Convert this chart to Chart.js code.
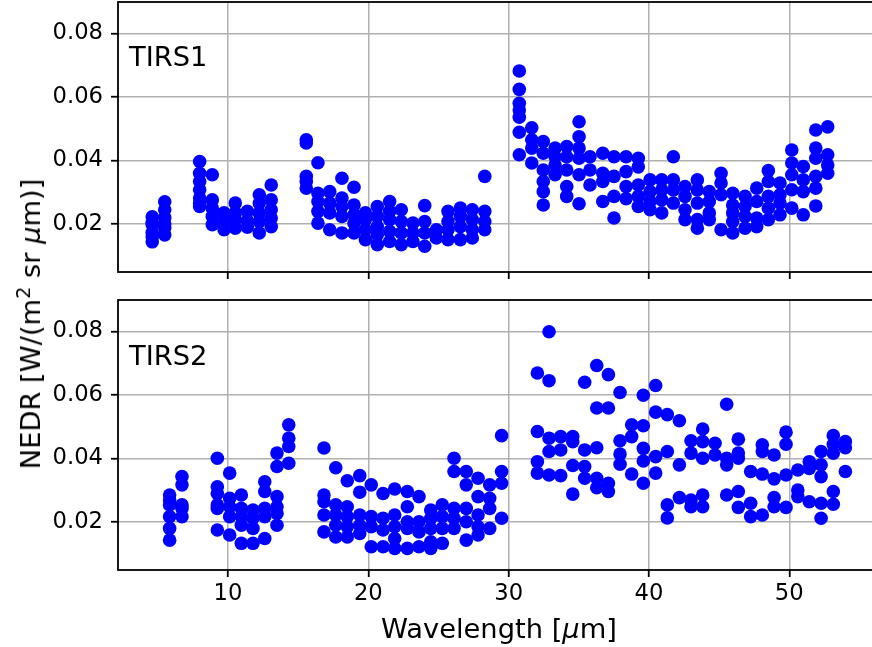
<!DOCTYPE html>
<html>
<head>
<meta charset="utf-8">
<script src="https://cdn.jsdelivr.net/npm/chart.js@4.4.0/dist/chart.umd.min.js"></script>
<style>
  html, body { margin: 0; padding: 0; background: #fff; overflow: hidden; }
  #wrap { position: relative; width: 872px; height: 647px; overflow: hidden; font-family: 'DejaVu Sans', sans-serif; color: #000; }
  canvas { position: absolute; left: 0; }
  .lbl { position: absolute; font-size: 27.3px; line-height: 32px; white-space: nowrap; }
  sup { font-size: 70%; line-height: 0; vertical-align: 0.5em; }
</style>
</head>
<body>
<div id="wrap">
  <canvas id="tirs1" width="884" height="283" style="top:0; width:884px; height:283px"></canvas>
  <canvas id="tirs2" width="884" height="357" style="top:290px; width:884px; height:357px"></canvas>
  <div class="lbl" style="left:129px; top:41px">TIRS1</div>
  <div class="lbl" style="left:129px; top:340px">TIRS2</div>
  <div class="lbl" style="left:299px; top:613px; width:400px; text-align:center">Wavelength [<i>μ</i>m]</div>
  <div class="lbl" style="left:30.6px; top:323.5px; transform: translate(-50%,-50%) rotate(-90deg)">NEDR [W/(m<sup>2</sup> sr <i>μ</i>m)]</div>
</div>
<script>
const xTicks = [10, 20, 30, 40, 50];
const xTickLabels = ['10', '20', '30', '40', '50'];
const yTicks = [0.02, 0.04, 0.06, 0.08];
const yTickLabels = ['0.02', '0.04', '0.06', '0.08'];
const xMin = 2.16, xMax = 56.61;
const yMin = 0.0049, yMax = 0.0899;

// TIRS1: wavelength of each channel column, and the NEDR values seen in it
const tirs1Wavelength = [4.60, 5.49, 7.98, 8.88, 9.72, 10.52, 11.38, 12.23, 13.08,
    15.58, 16.41, 17.25, 18.12, 18.98, 19.79, 20.64, 21.52, 22.35, 23.18, 24.02,
    24.85, 25.68, 26.56, 27.41, 28.30,
    30.76, 31.65, 32.47, 33.31, 34.14, 35.02, 35.80, 36.71, 37.51, 38.37, 39.24,
    40.08, 40.91, 41.74, 42.57, 43.45, 44.30, 45.14, 45.97, 46.85, 47.68, 48.51,
    49.34, 50.18, 51.00, 51.89, 52.74];
const tirs1Nedr = [
    [0.0223, 0.0205, 0.0198, 0.0173, 0.0160, 0.0144],
    [0.0270, 0.0245, 0.0220, 0.0200, 0.0188, 0.0166],
    [0.0397, 0.0360, 0.0334, 0.0308, 0.0282, 0.0265, 0.0255],
    [0.0355, 0.0276, 0.0250, 0.0224, 0.0198],
    [0.0235, 0.0208, 0.0182],
    [0.0266, 0.0235, 0.0214, 0.0187],
    [0.0240, 0.0210, 0.0190],
    [0.0292, 0.0266, 0.0235, 0.0208, 0.0172],
    [0.0323, 0.0276, 0.0245, 0.0219, 0.0192],
    [0.0465, 0.0455, 0.0350, 0.0334, 0.0313],
    [0.0393, 0.0297, 0.0271, 0.0240, 0.0203],
    [0.0302, 0.0266, 0.0235, 0.0182],
    [0.0344, 0.0282, 0.0255, 0.0224, 0.0172],
    [0.0316, 0.0260, 0.0229, 0.0203, 0.0172],
    [0.0235, 0.0214, 0.0182, 0.0151],
    [0.0255, 0.0224, 0.0192, 0.0166, 0.0135],
    [0.0271, 0.0240, 0.0214, 0.0177, 0.0145],
    [0.0245, 0.0208, 0.0172, 0.0135],
    [0.0203, 0.0172, 0.0145],
    [0.0258, 0.0208, 0.0172, 0.0130],
    [0.0182, 0.0156],
    [0.0240, 0.0208, 0.0182, 0.0151],
    [0.0250, 0.0224, 0.0192, 0.0151],
    [0.0245, 0.0214, 0.0182, 0.0156],
    [0.0350, 0.0240, 0.0208, 0.0182],
    [0.0682, 0.0624, 0.0580, 0.0559, 0.0536, 0.0489, 0.0418],
    [0.0503, 0.0465, 0.0439, 0.0392],
    [0.0460, 0.0423, 0.0370, 0.0334, 0.0302, 0.0260],
    [0.0439, 0.0412, 0.0386, 0.0355],
    [0.0444, 0.0412, 0.0370, 0.0318, 0.0287],
    [0.0522, 0.0475, 0.0439, 0.0407, 0.0355, 0.0264],
    [0.0412, 0.0370, 0.0323],
    [0.0423, 0.0360, 0.0334, 0.0271],
    [0.0412, 0.0350, 0.0287, 0.0219],
    [0.0412, 0.0365, 0.0318, 0.0280],
    [0.0407, 0.0380, 0.0323, 0.0287, 0.0255],
    [0.0339, 0.0302, 0.0271, 0.0245],
    [0.0339, 0.0307, 0.0276, 0.0235],
    [0.0412, 0.0339, 0.0307, 0.0266],
    [0.0318, 0.0287, 0.0245, 0.0214],
    [0.0339, 0.0307, 0.0266, 0.0214, 0.0187],
    [0.0302, 0.0271, 0.0235, 0.0214],
    [0.0360, 0.0329, 0.0292, 0.0182],
    [0.0297, 0.0260, 0.0235, 0.0208, 0.0172],
    [0.0287, 0.0255, 0.0224, 0.0187],
    [0.0313, 0.0271, 0.0219, 0.0192],
    [0.0368, 0.0334, 0.0287, 0.0250, 0.0214],
    [0.0329, 0.0292, 0.0266, 0.0229],
    [0.0433, 0.0392, 0.0355, 0.0308, 0.0250],
    [0.0381, 0.0339, 0.0302, 0.0229],
    [0.0496, 0.0439, 0.0407, 0.0350, 0.0313, 0.0257],
    [0.0506, 0.0418, 0.0386, 0.0360]
];

// TIRS2
const tirs2Wavelength = [5.84, 6.72, 9.24, 10.12, 10.95, 11.78, 12.62, 13.49, 14.33,
    16.84, 17.68, 18.50, 19.39, 20.21, 21.05, 21.88, 22.78, 23.61, 24.45, 25.27,
    26.11, 26.98, 27.82, 28.65, 29.50,
    32.05, 32.88, 33.71, 34.57, 35.42, 36.28, 37.11, 37.94, 38.77, 39.60, 40.48,
    41.31, 42.17, 43.00, 43.83, 44.71, 45.54, 46.37, 47.25, 48.08, 48.92, 49.77,
    50.61, 51.43, 52.27, 53.14, 54.00];
const tirs2Nedr = [
    [0.0285, 0.0269, 0.0254, 0.0217, 0.0180, 0.0143],
    [0.0343, 0.0317, 0.0254, 0.0243, 0.0217],
    [0.0401, 0.0311, 0.0290, 0.0254, 0.0243, 0.0175],
    [0.0354, 0.0275, 0.0248, 0.0217, 0.0159],
    [0.0285, 0.0243, 0.0217, 0.0190, 0.0133],
    [0.0238, 0.0212, 0.0180, 0.0133],
    [0.0327, 0.0296, 0.0243, 0.0217, 0.0148],
    [0.0417, 0.0375, 0.0280, 0.0248, 0.0227, 0.0190],
    [0.0506, 0.0464, 0.0438, 0.0385],
    [0.0433, 0.0285, 0.0264, 0.0222, 0.0169],
    [0.0371, 0.0254, 0.0222, 0.0190, 0.0153],
    [0.0330, 0.0248, 0.0217, 0.0185, 0.0153],
    [0.0346, 0.0294, 0.0222, 0.0190, 0.0164],
    [0.0317, 0.0217, 0.0185, 0.0122],
    [0.0290, 0.0212, 0.0175, 0.0122],
    [0.0304, 0.0222, 0.0185, 0.0148, 0.0117],
    [0.0296, 0.0248, 0.0201, 0.0180, 0.0117],
    [0.0280, 0.0201, 0.0169, 0.0122],
    [0.0238, 0.0212, 0.0180, 0.0138, 0.0117],
    [0.0254, 0.0217, 0.0180, 0.0133],
    [0.0401, 0.0359, 0.0243, 0.0212, 0.0180],
    [0.0359, 0.0317, 0.0243, 0.0201, 0.0143],
    [0.0338, 0.0280, 0.0222, 0.0185, 0.0159],
    [0.0317, 0.0275, 0.0243, 0.0180],
    [0.0472, 0.0359, 0.0322, 0.0212],
    [0.0669, 0.0485, 0.0390, 0.0354],
    [0.0799, 0.0645, 0.0464, 0.0422, 0.0348],
    [0.0469, 0.0427, 0.0346],
    [0.0469, 0.0453, 0.0378, 0.0288],
    [0.0640, 0.0427, 0.0375, 0.0338],
    [0.0693, 0.0559, 0.0434, 0.0338, 0.0308],
    [0.0664, 0.0559, 0.0322, 0.0296],
    [0.0608, 0.0456, 0.0414, 0.0382],
    [0.0506, 0.0469, 0.0351],
    [0.0599, 0.0503, 0.0432, 0.0392, 0.0322],
    [0.0630, 0.0546, 0.0406, 0.0354],
    [0.0538, 0.0422, 0.0254, 0.0213],
    [0.0519, 0.0380, 0.0277],
    [0.0456, 0.0417, 0.0269, 0.0248],
    [0.0493, 0.0453, 0.0401, 0.0285, 0.0248],
    [0.0448, 0.0411],
    [0.0571, 0.0401, 0.0380, 0.0285],
    [0.0461, 0.0417, 0.0401, 0.0296, 0.0246],
    [0.0359, 0.0259, 0.0217],
    [0.0443, 0.0422, 0.0351, 0.0222],
    [0.0411, 0.0336, 0.0277, 0.0248],
    [0.0483, 0.0445, 0.0348, 0.0246],
    [0.0364, 0.0301, 0.0280],
    [0.0390, 0.0369, 0.0264],
    [0.0422, 0.0380, 0.0343, 0.0259, 0.0212],
    [0.0472, 0.0445, 0.0417, 0.0296, 0.0256],
    [0.0453, 0.0434, 0.0359]
];

const tickFont = { family: 'DejaVu Sans', size: 22.7 };

// black box round the plot area, drawn over the points like matplotlib spines
const framePlugin = {
    id: 'frame',
    afterDatasetsDraw(chart) {
        const { ctx, chartArea: a } = chart;
        ctx.save();
        ctx.strokeStyle = '#000';
        ctx.lineWidth = 1.8;
        ctx.strokeRect(a.left, a.top, a.right - a.left, a.bottom - a.top);
        ctx.restore();
    }
};

function gridOpts() {
    return { color: '#b0b0b0', lineWidth: 1.5, tickColor: '#000', tickWidth: 1.8, tickLength: 7 };
}

function drawPanel(canvasId, wavelength, nedr, padTop, xHeight, showXLabels) {
    const points = wavelength.flatMap((w, i) => nedr[i].map(v => ({ x: w, y: v })));

    return new Chart(document.getElementById(canvasId), {
        type: 'scatter',
        data: {
            datasets: [{
                data: points,
                pointBackgroundColor: '#0000ff',
                pointBorderWidth: 0,
                pointRadius: 6.8,
                pointHoverRadius: 6.8,
            }],
        },
        options: {
            responsive: false,
            animation: false,
            events: [],
            layout: { autoPadding: false, padding: { top: padTop, right: 2, left: 0, bottom: 0 } },
            plugins: { legend: { display: false }, tooltip: { enabled: false } },
            scales: {
                x: {
                    type: 'linear',
                    min: xMin,
                    max: xMax,
                    afterBuildTicks: s => { s.ticks = xTicks.map(v => ({ value: v })); },
                    afterFit: s => { s.height = xHeight; s.paddingLeft = 0; s.paddingRight = 0; },
                    grid: gridOpts(),
                    border: { display: false },
                    ticks: {
                        display: showXLabels,
                        padding: 3,
                        autoSkip: false,
                        maxRotation: 0,
                        color: '#000',
                        font: tickFont,
                        callback: (v, i) => xTickLabels[i],
                    },
                },
                y: {
                    type: 'linear',
                    min: yMin,
                    max: yMax,
                    afterBuildTicks: s => { s.ticks = yTicks.map(v => ({ value: v })); },
                    afterFit: s => { s.width = 118; s.paddingTop = 0; s.paddingBottom = 0; },
                    grid: gridOpts(),
                    border: { display: false },
                    ticks: {
                        padding: 8,
                        autoSkip: false,
                        color: '#000',
                        font: tickFont,
                        callback: (v, i) => yTickLabels[i],
                    },
                },
            },
        },
        plugins: [framePlugin],
    });
}

drawPanel('tirs1', tirs1Wavelength, tirs1Nedr, 2, 11, false);
drawPanel('tirs2', tirs2Wavelength, tirs2Nedr, 10, 77, true);
</script>
</body>
</html>
